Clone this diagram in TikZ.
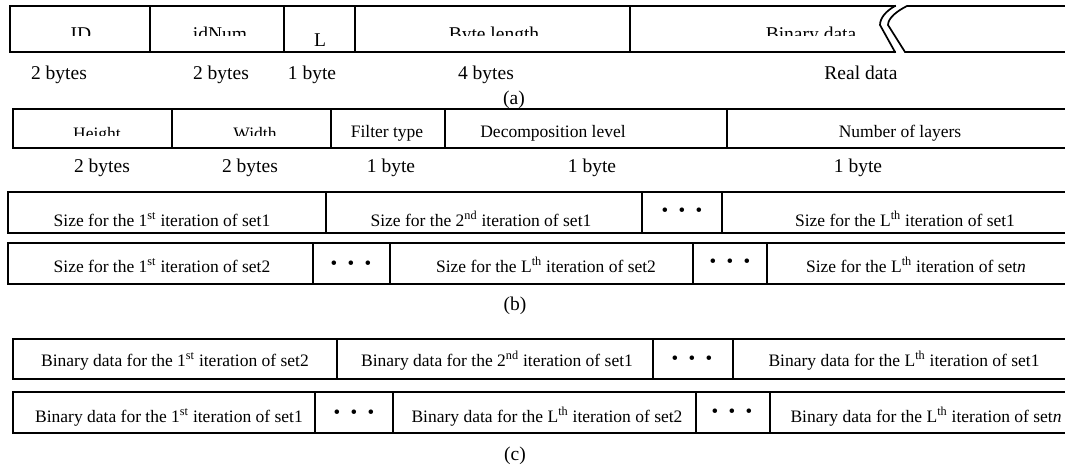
\documentclass[tikz,border=0pt]{standalone}
\usepackage{fontspec}
\setmainfont{Liberation Serif}
\newcommand\tridots{\textbullet\hspace{10.4pt}\textbullet\hspace{10.4pt}\textbullet}
\tikzset{
  ln/.style={line width=1.7pt, line cap=rect},
  big/.style={anchor=base, inner sep=0pt, font=\fontsize{19.5}{20}\selectfont},
  small/.style={anchor=base, inner sep=0pt, font=\fontsize{17.5}{18}\selectfont},
  dotsgrp/.style={inner sep=0pt, font=\fontsize{19}{19}\selectfont},
}
\begin{document}
\begin{tikzpicture}[x=1pt, y=-1pt]
\useasboundingbox (0,0) rectangle (1065,465);

% ---------------- (a) ----------------
\draw[ln] (10,6) -- (895,6);
\draw[ln] (10,52) -- (895,52);
\foreach \xx in {10,150,284,355,630} \draw[ln] (\xx,6) -- (\xx,52);
\draw[ln] (895,6) .. controls (886,11) and (880,18) .. (880,25) -- (895,52);
\draw[ln] (1065,6) -- (907,6) .. controls (897,11) and (888,18) .. (888,25) -- (905,52) -- (1065,52);
\begin{scope}
  \clip (0,0) rectangle (1065,36);
  \node[big] (aID)  at (81,41)  {ID};
  \node[big] (aNum) at (220,41) {idNum};
  \node[big] (aLen) at (494,41) {Byte length};
  \node[big] (aBin) at (811,41) {Binary data};
\end{scope}
\node[big] (aL) at (320,47) {L};
\node[big] (sa1) at (59,80)  {2 bytes};
\node[big] (sa2) at (221,80) {2 bytes};
\node[big] (sa3) at (312,80) {1 byte};
\node[big] (sa4) at (486,80) {4 bytes};
\node[big] (sa5) at (861,80) {Real data};
\node[big] (capa) at (514,105) {(a)};

% ---------------- (b) header ----------------
\draw[ln] (13,109) -- (1065,109);
\draw[ln] (13,148) -- (1065,148);
\foreach \xx in {13,172,331,445,727} \draw[ln] (\xx,109) -- (\xx,148);
\begin{scope}
  \clip (0,100) rectangle (1065,136);
  \node[small] (bH) at (97,140)  {Height};
  \node[small] (bW) at (255,140) {Width};
\end{scope}
\node[small] (bF) at (387,138) {Filter type};
\node[small] (bD) at (553,138) {Decomposition level};
\node[small] (bN) at (900,138) {Number of layers};
\node[big] (sb1) at (102,173) {2 bytes};
\node[big] (sb2) at (250,173) {2 bytes};
\node[big] (sb3) at (391,173) {1 byte};
\node[big] (sb4) at (592,173) {1 byte};
\node[big] (sb5) at (858,173) {1 byte};

% ---------------- (b) row 1 ----------------
\draw[ln] (8,192) -- (1065,192);
\draw[ln] (8,233) -- (1065,233);
\foreach \xx in {8,326,642,722} \draw[ln] (\xx,192) -- (\xx,233);
\node[small] (b11) at (162,226) {Size for the 1\textsuperscript{st} iteration of set1};
\node[small] (b12) at (481,226) {Size for the 2\textsuperscript{nd} iteration of set1};
\node[dotsgrp] (b1d) at (682,212) {\tridots};
\node[small] (b13) at (905,226) {Size for the L\textsuperscript{th} iteration of set1};

% ---------------- (b) row 2 ----------------
\draw[ln] (8,243) -- (1065,243);
\draw[ln] (8,284) -- (1065,284);
\foreach \xx in {8,313,390,693,767} \draw[ln] (\xx,243) -- (\xx,284);
\node[small] (b21) at (162,272) {Size for the 1\textsuperscript{st} iteration of set2};
\node[dotsgrp] (b2d1) at (351,265) {\tridots};
\node[small] (b22) at (546,272) {Size for the L\textsuperscript{th} iteration of set2};
\node[dotsgrp] (b2d2) at (730,263) {\tridots};
\node[small] (b23) at (916,272) {Size for the L\textsuperscript{th} iteration of set\textit{n}};
\node[big] (capb) at (515,310) {(b)};

% ---------------- (c) row 1 ----------------
\draw[ln] (13,339) -- (1065,339);
\draw[ln] (13,379) -- (1065,379);
\foreach \xx in {13,337,653,733} \draw[ln] (\xx,339) -- (\xx,379);
\node[small] (c11) at (175,366) {Binary data for the 1\textsuperscript{st} iteration of set2};
\node[small] (c12) at (497,366) {Binary data for the 2\textsuperscript{nd} iteration of set1};
\node[dotsgrp] (c1d) at (692,360) {\tridots};
\node[small] (c13) at (904,366) {Binary data for the L\textsuperscript{th} iteration of set1};

% ---------------- (c) row 2 ----------------
\draw[ln] (13,392) -- (1065,392);
\draw[ln] (13,433) -- (1065,433);
\foreach \xx in {13,315,393,696,770} \draw[ln] (\xx,392) -- (\xx,433);
\node[small] (c21) at (169,422) {Binary data for the 1\textsuperscript{st} iteration of set1};
\node[dotsgrp] (c2d1) at (354,414) {\tridots};
\node[small] (c22) at (547,422) {Binary data for the L\textsuperscript{th} iteration of set2};
\node[dotsgrp] (c2d2) at (732,413) {\tridots};
\node[small] (c23) at (926,422) {Binary data for the L\textsuperscript{th} iteration of set\textit{n}};
\node[big] (capc) at (515,460) {(c)};
\end{tikzpicture}
\end{document}
